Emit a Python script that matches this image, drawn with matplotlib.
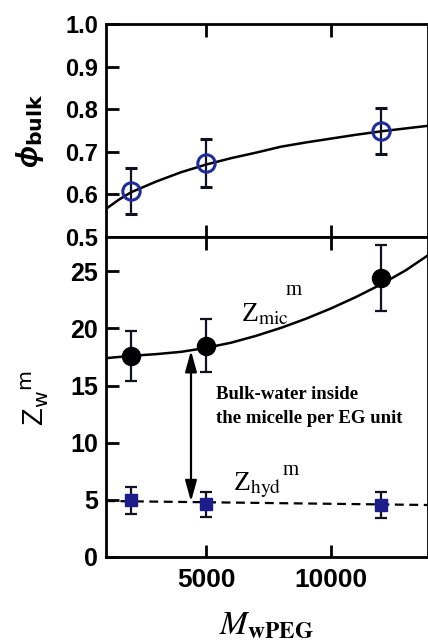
import numpy as np
import matplotlib
matplotlib.use("Agg")
import matplotlib.pyplot as plt

plt.rcParams['font.family'] = ['Liberation Sans', 'DejaVu Sans']
plt.rcParams['mathtext.fontset'] = 'stix'

# PEG molecular weights of the three samples
mw = [2000, 5000, 12000]

# bulk-water volume fraction with error bars
phi_bulk = [0.608, 0.674, 0.749]
phi_err = [0.055, 0.057, 0.053]

# water per EG unit inside the micelle and hydration water
z_mic = [17.6, 18.5, 24.4]
z_mic_err = [2.2, 2.3, 2.9]
z_hyd = [4.95, 4.6, 4.55]
z_hyd_err = [1.15, 1.1, 1.15]

# fitted curves read along the x range
fit_x = [1000, 1500, 2000, 3000, 4000, 5000, 6000, 7000, 8000, 9000,
         10000, 11000, 12000, 13000, 13880]
phi_fit = [0.566, 0.587, 0.605, 0.630, 0.652, 0.670, 0.685, 0.698, 0.712,
           0.722, 0.731, 0.740, 0.748, 0.755, 0.761]
zmic_fit = [17.4, 17.5, 17.6, 17.75, 17.95, 18.3, 18.75, 19.35, 20.05,
            20.85, 21.75, 22.75, 23.85, 25.1, 26.4]
zhyd_fit_x = [1000, 13880]
zhyd_fit = [4.9, 4.55]

# double arrow marking bulk water between the two curves
arrow_x = 4400
arrow_lo, arrow_hi = 4.85, 18.05

xlim = (1000, 13880)

fig = plt.figure(figsize=(4.28, 6.44), dpi=100)
ax1 = fig.add_axes([106/428, 1 - 237/644, 322/428, 213/644])
ax2 = fig.add_axes([106/428, 1 - 557/644, 322/428, 320/644])

for ax in (ax1, ax2):
    ax.set_xlim(*xlim)
    ax.set_xticks([5000, 10000])
    for s in ax.spines.values():
        s.set_linewidth(2.0)
    ax.tick_params(direction='in', length=9, width=2, top=True, right=False,
                   pad=5.5)

# upper panel: phi_bulk
ax1.plot(fit_x, phi_fit, color='black', lw=1.8, zorder=2)
ax1.errorbar(mw, phi_bulk, yerr=phi_err, fmt='o', ms=12.5, mfc='none',
             mec='#1f2c9c', mew=2.2, ecolor='#111122', elinewidth=1.6,
             capsize=4.5, capthick=1.6, zorder=3)
ax1.set_ylim(0.5, 1.0)
ax1.set_yticks([0.5, 0.6, 0.7, 0.8, 0.9, 1.0])
ax1.set_yticklabels(['0.5', '0.6', '0.7', '0.8', '0.9', '1.0'],
                    fontsize=17, fontweight='bold')
ax1.set_xticklabels([])

# lower panel: Z_w^m
ax2.plot(fit_x, zmic_fit, color='black', lw=1.8, zorder=2)
ax2.errorbar(mw, z_mic, yerr=z_mic_err, fmt='o', ms=13, mfc='black',
             mec='black', ecolor='#111122', elinewidth=1.6,
             capsize=4.5, capthick=1.6, zorder=3)
ax2.plot(zhyd_fit_x, zhyd_fit, color='black', lw=1.6, dashes=(4, 2.5),
         zorder=2)
ax2.errorbar(mw, z_hyd, yerr=z_hyd_err, fmt='s', ms=8.5, mfc='#1c1c8a',
             mec='#1c1c8a', ecolor='#111122', elinewidth=1.6,
             capsize=4.5, capthick=1.6, zorder=3)
ax2.set_ylim(0, 28)
ax2.set_yticks([0, 5, 10, 15, 20, 25])
ax2.set_yticklabels(['0', '5', '10', '15', '20', '25'],
                    fontsize=18, fontweight='bold')
ax2.set_xticklabels(['5000', '10000'], fontsize=19, fontweight='bold')
ax2.tick_params(axis='x', pad=8)

ax2.annotate('', xy=(arrow_x, arrow_hi), xytext=(arrow_x, arrow_lo),
             arrowprops=dict(arrowstyle='<|-|>,head_length=0.9,head_width=0.25',
                             lw=1.6, color='black', shrinkA=0, shrinkB=0,
                             mutation_scale=14))

# curve labels: Z with subscript, and a raised "m" after it
serif = ['Liberation Serif', 'DejaVu Serif']
ax2.text(6400, 20.6, r'Z$_{\mathrm{mic}}$', family=serif,
         fontsize=20, ha='left', va='baseline')
ax2.text(8200, 22.95, 'm', family=serif, fontsize=15, ha='left',
         va='baseline')
ax2.text(6090, 5.85, r'Z$_{\mathrm{hyd}}$', family=serif,
         fontsize=20, ha='left', va='baseline')
ax2.text(8050, 7.15, 'm', family=serif, fontsize=15, ha='left',
         va='baseline')
ax2.text(5400, 14.95, 'Bulk-water inside\nthe micelle per EG unit',
         family=serif, fontsize=13.5, fontweight='bold', ha='left', va='top',
         linespacing=1.55)

# axis labels
fig.text(30/428, 1 - 131/644, r'ϕ$_{\mathbf{bulk}}$', rotation=90,
         fontsize=21, fontweight='bold', fontstyle='italic',
         ha='center', va='center', math_fontfamily='dejavusans')
fig.text(35/428, 1 - 398/644, r'Z$_{\mathrm{w}}$$^{\mathrm{m}}$', rotation=90,
         fontsize=21, ha='center', va='center', math_fontfamily='dejavusans')
fig.text(266/428, 1 - 633/644, r'$\mathit{M}_{\mathbf{wPEG}}$', fontsize=24,
         ha='center', va='baseline')

fig.savefig('out.png', dpi=100)
